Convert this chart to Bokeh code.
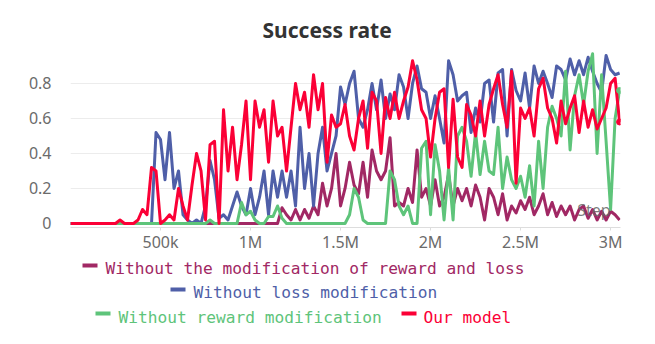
from bokeh.plotting import figure
from bokeh.models import FixedTicker, Range1d, Label
from bokeh.layouts import column
from bokeh.core.properties import value
from bokeh.embed import file_html
from bokeh.resources import INLINE

# ---------------- data ----------------
STEP = 25000
steps = [i * STEP for i in range(123)]

no_mod = [
    0, 0, 0, 0, 0, 0, 0, 0, 0, 0,
    0, 0, 0, 0, 0, 0, 0, 0, 0, 0,
    0, 0, 0, 0, 0, 0, 0, 0, 0, 0,
    0, 0, 0, 0, 0, 0, 0, 0, 0, 0,
    0, 0, 0, 0, 0, 0, 0, 0.09, 0.05, 0.02,
    0.08, 0.02, 0.08, 0.03, 0.1, 0.05, 0.23, 0.1, 0.2, 0.4,
    0.1, 0.2, 0.35, 0.22, 0.17, 0.35, 0.15, 0.42, 0.3, 0.25,
    0.3, 0.49, 0.1, 0.12, 0.1, 0.2, 0.12, 0.42, 0.15, 0.2,
    0.1, 0.25, 0.1, 0.15, 0.28, 0.1, 0.2, 0.13, 0.2, 0.1,
    0.22, 0.15, 0.02, 0.2, 0.15, 0.05, 0.17, 0.02, 0.1, 0.06,
    0.13, 0.08, 0.15, 0.05, 0.1, 0.17, 0.05, 0.12, 0.04, 0.1,
    0.05, 0.1, 0.02, 0.08, 0.1, 0.03, 0.08, 0.02, 0.07, 0.02,
    0.07, 0.05, 0.02,
]

no_loss = [
    0, 0, 0, 0, 0, 0, 0, 0, 0, 0,
    0, 0, 0, 0, 0, 0, 0, 0, 0, 0.52,
    0.48, 0.25, 0.52, 0.2, 0.3, 0.05, 0.02, 0.0, 0.02, 0.0,
    0.1, 0.36, 0.25, 0.03, 0.05, 0.02, 0.1, 0.18, 0.1, 0.05,
    0.2, 0.05, 0.15, 0.3, 0.05, 0.3, 0.15, 0.3, 0.15, 0.3,
    0.1, 0.55, 0.2, 0.4, 0.1, 0.4, 0.55, 0.3, 0.4, 0.5,
    0.78, 0.68, 0.8, 0.87, 0.6, 0.55, 0.65, 0.8, 0.65, 0.82,
    0.6, 0.74, 0.65, 0.85, 0.78, 0.6, 0.8, 0.9, 0.77, 0.75,
    0.6, 0.73, 0.6, 0.46, 0.93, 0.85, 0.7, 0.73, 0.75, 0.52,
    0.66, 0.58, 0.8, 0.82, 0.58, 0.86, 0.88, 0.5, 0.88, 0.76,
    0.7, 0.86, 0.66, 0.9, 0.8, 0.87, 0.8, 0.72, 0.9, 0.88,
    0.82, 0.94, 0.85, 0.93, 0.85, 0.95, 0.87, 0.8, 0.75, 0.96,
    0.88, 0.85, 0.86,
]

no_reward = [
    0, 0, 0, 0, 0, 0, 0, 0, 0, 0,
    0, 0, 0, 0, 0, 0, 0, 0, 0, 0,
    0, 0, 0, 0, 0, 0, 0, 0, 0, 0,
    0, 0.02, 0, 0, 0, 0, 0, 0, 0.12, 0.05,
    0.07, 0.02, 0, 0, 0.04, 0.04, 0.1, 0.03, 0, 0,
    0, 0, 0, 0, 0, 0, 0, 0, 0, 0,
    0, 0, 0.05, 0.2, 0.15, 0.02, 0, 0, 0, 0,
    0, 0.3, 0.25, 0.1, 0.05, 0.1, 0, 0, 0.43, 0.47,
    0.05, 0.45, 0.3, 0.02, 0.32, 0.02, 0.5, 0.55, 0.47, 0.27,
    0.52, 0.28, 0.47, 0.3, 0.28, 0.55, 0.2, 0.38, 0.25, 0.2,
    0.27, 0.15, 0.33, 0.1, 0.47, 0.2, 0.55, 0.67, 0.6, 0.5,
    0.87, 0.42, 0.73, 0.85, 0.68, 0.87, 0.97, 0.4, 0.85, 0.47,
    0.08, 0.6, 0.76,
]

ours = [
    0, 0, 0, 0, 0, 0, 0, 0, 0, 0,
    0, 0.02, 0, 0, 0, 0.02, 0.08, 0.05, 0.32, 0.3,
    0.0, 0.02, 0.05, 0.02, 0.2, 0.1, 0.02, 0.22, 0.4, 0.3,
    0.02, 0.45, 0.47, 0.0, 0.65, 0.3, 0.55, 0.25, 0.45, 0.7,
    0.25, 0.7, 0.55, 0.65, 0.35, 0.7, 0.5, 0.55, 0.3, 0.55,
    0.8, 0.65, 0.75, 0.55, 0.85, 0.65, 0.8, 0.35, 0.62, 0.55,
    0.57, 0.68, 0.5, 0.42, 0.6, 0.7, 0.43, 0.75, 0.7, 0.4,
    0.72, 0.6, 0.75, 0.6, 0.7, 0.78, 0.93, 0.82, 0.65, 0.6,
    0.38, 0.6, 0.75, 0.77, 0.32, 0.71, 0.38, 0.32, 0.68, 0.62,
    0.5, 0.7, 0.5, 0.68, 0.77, 0.85, 0.68, 0.55, 0.87, 0.23,
    0.66, 0.6, 0.66, 0.5, 0.77, 0.83, 0.66, 0.6, 0.46, 0.7,
    0.57, 0.66, 0.73, 0.52, 0.7, 0.55, 0.65, 0.54, 0.6, 0.66,
    0.8, 0.83, 0.58,
]

series_names = [
    "Without the modification of reward and loss",
    "Without loss modification",
    "Without reward modification",
    "Our model",
]
series_colors = ["#a12864", "#4f5fa8", "#5ec47a", "#fb0036"]
series_values = [no_mod, no_loss, no_reward, ours]

x_ticks = [500000, 1000000, 1500000, 2000000, 2500000, 3000000]
x_tick_labels = ["500k", "1M", "1.5M", "2M", "2.5M", "3M"]
y_ticks = [0, 0.2, 0.4, 0.6, 0.8]
y_tick_labels = ["0", "0.2", "0.4", "0.6", "0.8"]

# ---------------- main chart ----------------
FONT = "Noto Sans"
FRAME_L, FRAME_R = 70, 620
p = figure(width=647, height=258, output_backend="svg", toolbar_location=None,
           x_range=Range1d(0, 3055000), y_range=Range1d(-0.023, 1.0),
           min_border_left=FRAME_L, min_border_right=647 - FRAME_R,
           min_border_top=48, min_border_bottom=31)
p.title.text = "Success rate"
p.title.align = "left"
p.title.offset = 192
p.title.text_font = FONT
p.title.text_font_size = "21px"
p.title.text_font_style = "bold"
p.title.text_color = "#333333"
p.outline_line_color = None

p.xaxis.ticker = FixedTicker(ticks=x_ticks)
p.xaxis.major_label_overrides = dict(zip(x_ticks, x_tick_labels))
p.xaxis.axis_line_color = "#dddddd"
p.xaxis.major_tick_line_color = "#dddddd"
p.xaxis.major_tick_out = 3
p.xaxis.major_tick_in = 0
p.xaxis.minor_tick_line_color = None
p.xaxis.major_label_standoff = 0

p.yaxis.ticker = FixedTicker(ticks=y_ticks)
p.yaxis.major_label_overrides = dict(zip(y_ticks, y_tick_labels))
p.yaxis.axis_line_color = None
p.yaxis.major_tick_line_color = None
p.yaxis.minor_tick_line_color = None
p.yaxis.major_label_standoff = 13

for ax in (p.xaxis, p.yaxis):
    ax.major_label_text_font = FONT
    ax.major_label_text_font_size = "16px"
    ax.major_label_text_color = "#6b6b6b"

p.xgrid.grid_line_color = None
p.ygrid.ticker = FixedTicker(ticks=y_ticks[1:])
p.ygrid.grid_line_color = "#ececec"

for vals, col in zip(series_values, series_colors):
    p.line(steps, vals, line_width=3, color=col, line_join="round")

p.scatter([steps[-1]], [no_reward[-1]], size=6, color=series_colors[2])
p.scatter([steps[-1]], [ours[-1]], size=6, color=series_colors[3])

p.add_layout(Label(x=3000000, y=0.012, text="Step", text_align="right",
                   text_baseline="bottom", text_font=FONT,
                   text_font_size="16px", text_color="#666666", text_alpha=0.85))

# ---------------- legend ----------------
# the legend figure's frame is aligned with the chart frame, so its x range
# is expressed in page pixels over that frame
leg = figure(width=647, height=78, output_backend="svg", toolbar_location=None,
             x_range=Range1d(FRAME_L, FRAME_R), y_range=Range1d(78, 0),
             x_axis_type=None, y_axis_type=None,
             min_border_left=FRAME_L, min_border_right=647 - FRAME_R,
             min_border_top=0, min_border_bottom=0)
leg.grid.visible = False
leg.outline_line_color = None

mk_x0 = [82, 170, 95, 401]
mk_y = [7, 31, 55, 55]
tx_x = [105, 193, 118, 423]
tx_y = [10, 34, 59, 59]
leg.segment(x0=mk_x0, y0=mk_y, x1=[v + 15 for v in mk_x0], y1=mk_y,
            line_width=4, color=series_colors)
leg.text(x=tx_x, y=tx_y, text=series_names, text_color=series_colors,
         text_font=value("DejaVu Sans Mono"), text_font_size="16.2px",
         text_baseline="middle", text_align="left")

layout = column(p, leg, spacing=0)
open("out.html", "w").write(file_html(layout, INLINE))
